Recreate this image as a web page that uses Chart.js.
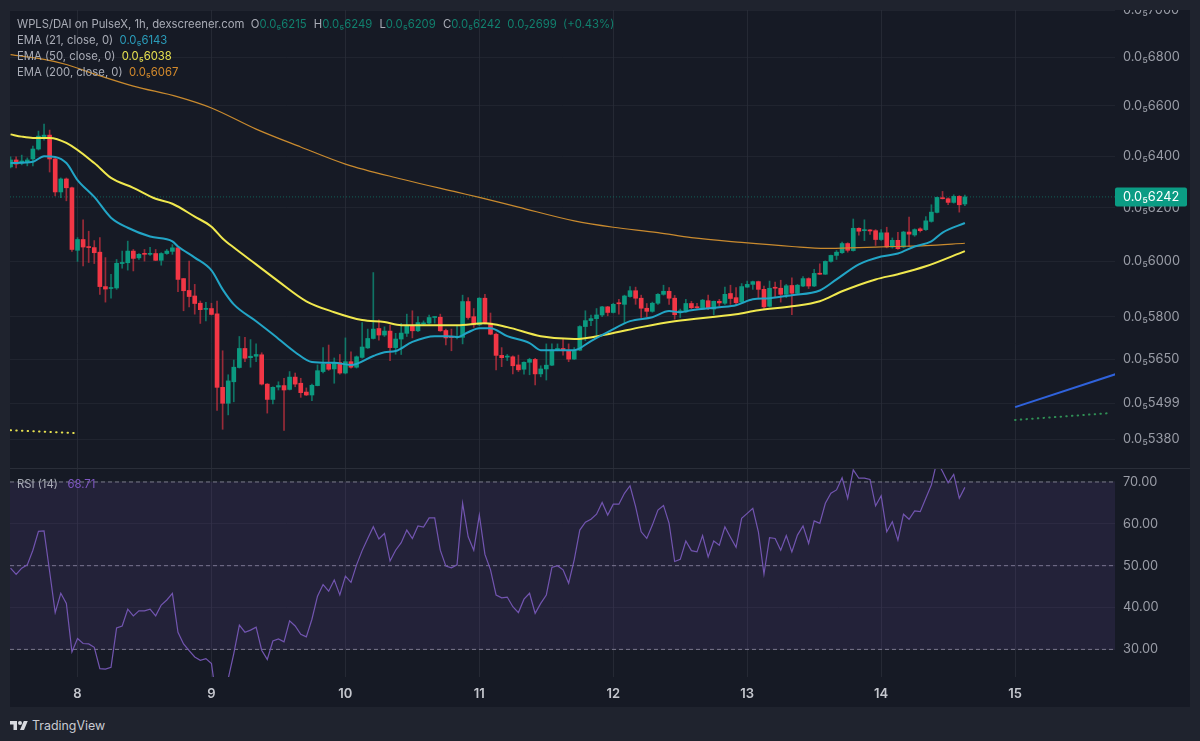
<!DOCTYPE html>
<html lang="en">
<head>
<meta charset="UTF-8">
<title>WPLS/DAI on PulseX</title>
<style>
    * { margin: 0; padding: 0; box-sizing: border-box; }
    body {
        width: 1200px;
        height: 741px;
        background: #1f232e;
        overflow: hidden;
        position: relative;
        font-family: Inter, 'Noto Sans', sans-serif;
    }
    #chart {
        position: absolute;
        left: 10px;
        top: 10px;
        background: #161a25;
    }
    .line {
        position: absolute;
        left: 17px;
        font-size: 11.3px;
        line-height: 16px;
        color: #a9acb6;
        white-space: pre;
    }
    .teal { color: #11806e; }
    .gap { margin-left: 4px; }
    .logo {
        position: absolute;
        left: 10px;
        top: 718px;
        display: flex;
        align-items: center;
        color: #c9cbd2;
        font-size: 12.4px;
    }
    .logo svg { width: 18px; height: 14px; margin-right: 4px; fill: #d8dae0; }
</style>
</head>
<body>
<canvas id="chart" width="1180" height="697"></canvas>
<div class="line" style="top:16px">WPLS/DAI on PulseX, 1h, dexscreener.com  O<span class="teal">0.0₅6215</span> <span class="gap">H</span><span class="teal">0.0₅6249</span> <span class="gap">L</span><span class="teal">0.0₅6209</span> <span class="gap">C</span><span class="teal">0.0₅6242</span>  <span class="teal">0.0₇2699  (+0.43%)</span></div>
<div class="line" style="top:32px">EMA (21, close, 0)  <span style="color:#2a9dbb">0.0₅6143</span></div>
<div class="line" style="top:48px">EMA (50, close, 0)  <span style="color:#e6e04f">0.0₅6038</span></div>
<div class="line" style="top:64px">EMA (200, close, 0)  <span style="color:#d48a2c">0.0₅6067</span></div>
<div class="line" style="top:476px">RSI (14)   <span style="color:#7e57c2">68.71</span></div>
<div class="logo">
    <svg viewBox="0 0 36 28"><path d="M14 22H7V11H0V4h14v18zM28 22h-8l7.5-18h8L28 22z"/><circle cx="20" cy="8" r="4"/></svg>
    TradingView
</div>
<script src="https://cdn.jsdelivr.net/npm/chart.js@4/dist/chart.umd.min.js"></script>
<script>
    // candles, one per hour. hour 0 = start of day 8, prices in units of 1e-11
    const opens = [
        6358,6385,6373,6377,6389,6428,6477,6483,6389,6261,
        6311,6277,6041,6081,6054,6051,6034,5908,5901,5903,
        5992,5995,6038,6013,6029,6026,6029,6004,6029,6037,
        6050,5937,5894,5874,5848,5826,5829,5810,5554,5500,
        5573,5622,5688,5656,5661,5666,5565,5513,5555,5560,
        5547,5589,5568,5538,5528,5560,5608,5634,5617,5639,
        5603,5642,5623,5657,5690,5723,5758,5735,5749,5691,
        5721,5741,5768,5750,5774,5777,5797,5798,5751,5728,
        5726,5727,5854,5800,5771,5866,5777,5738,5664,5658,
        5659,5631,5616,5640,5650,5600,5617,5630,5682,5688,
        5679,5651,5682,5765,5786,5793,5806,5835,5815,5848,
        5844,5872,5893,5866,5830,5819,5848,5880,5891,5866,
        5814,5817,5847,5835,5827,5857,5827,5855,5848,5883,
        5868,5852,5906,5916,5926,5898,5837,5904,5902,5880,
        5912,5884,5910,5937,5910,5956,5953,6000,6022,6032,
        6066,6040,6123,6114,6117,6114,6081,6106,6053,6078,
        6053,6109,6098,6121,6118,6149,6183,6239,6235,6221,
        6244,6215
    ];
    const closes = [
        6385,6369,6381,6385,6428,6479,6483,6389,6261,6311,
        6277,6044,6081,6053,6051,6032,5908,5899,5904,5993,
        5996,6038,6011,6026,6026,6029,6004,6029,6038,6050,
        5934,5893,5872,5847,5825,5829,5808,5554,5500,5576,
        5623,5688,5654,5661,5667,5565,5513,5554,5560,5545,
        5589,5565,5536,5528,5561,5611,5634,5616,5639,5603,
        5642,5623,5659,5693,5723,5756,5735,5749,5691,5721,
        5742,5768,5750,5779,5778,5797,5799,5750,5725,5726,
        5730,5854,5797,5771,5866,5777,5738,5664,5656,5661,
        5628,5614,5640,5650,5600,5617,5630,5682,5688,5680,
        5651,5680,5765,5786,5793,5806,5835,5815,5844,5846,
        5874,5893,5866,5830,5819,5848,5880,5891,5866,5807,
        5821,5847,5832,5832,5859,5829,5855,5849,5880,5865,
        5850,5908,5916,5926,5898,5835,5902,5902,5880,5911,
        5884,5913,5937,5910,5956,5953,6000,6022,6034,6066,
        6041,6123,6112,6118,6113,6081,6106,6053,6078,6047,
        6109,6101,6118,6114,6151,6184,6240,6235,6221,6244,
        6212,6242
    ];
    const highs = [
        6397,6397,6404,6393,6440,6499,6527,6503,6397,6315,
        6315,6280,6088,6155,6112,6077,6088,6014,5953,6007,
        6038,6075,6044,6029,6044,6052,6044,6032,6044,6062,
        6052,5938,6001,5916,5856,5851,5848,5856,5680,5597,
        5648,5730,5727,5719,5704,5673,5567,5556,5573,5585,
        5608,5603,5585,5552,5565,5631,5691,5700,5655,5667,
        5725,5676,5662,5779,5756,5959,5789,5764,5770,5741,
        5776,5809,5821,5800,5785,5806,5800,5809,5756,5756,
        5768,5877,5868,5829,5868,5880,5813,5742,5691,5667,
        5662,5665,5642,5654,5654,5628,5704,5704,5704,5721,
        5704,5691,5768,5821,5806,5829,5837,5837,5848,5862,
        5877,5908,5906,5877,5847,5852,5883,5913,5904,5876,
        5827,5862,5855,5848,5862,5877,5856,5862,5906,5913,
        5904,5919,5928,5928,5928,5910,5928,5924,5931,5916,
        5940,5916,5944,5940,5971,5991,6002,6023,6040,6071,
        6069,6158,6125,6155,6118,6118,6118,6127,6087,6108,
        6112,6165,6121,6125,6167,6212,6241,6263,6238,6250,
        6247,6249
    ];
    const lows = [
        6354,6354,6366,6362,6362,6424,6463,6338,6246,6239,
        6227,6037,6000,5983,5996,5992,5880,5852,5866,5898,
        5975,5968,5965,6007,6001,6022,6003,5986,6026,6026,
        5890,5821,5835,5809,5776,5785,5806,5476,5413,5461,
        5505,5620,5642,5623,5642,5562,5467,5498,5545,5409,
        5545,5556,5520,5526,5509,5559,5603,5612,5568,5599,
        5600,5620,5620,5654,5688,5721,5717,5730,5646,5668,
        5667,5730,5725,5747,5768,5773,5777,5748,5700,5680,
        5721,5704,5791,5762,5768,5773,5736,5614,5625,5646,
        5600,5608,5599,5597,5562,5590,5579,5628,5680,5665,
        5642,5650,5680,5715,5768,5735,5800,5803,5813,5809,
        5776,5870,5844,5797,5800,5816,5844,5877,5844,5791,
        5797,5815,5827,5829,5825,5825,5807,5837,5844,5844,
        5842,5850,5905,5898,5868,5829,5835,5868,5852,5868,
        5807,5880,5908,5901,5908,5952,5952,5997,6007,6029,
        6034,6038,6097,6077,6100,6059,6078,6050,6049,6044,
        6050,6056,6093,6109,6115,6146,6181,6234,6212,6218,
        6184,6209
    ];
    const rsiValues = [
        49.4,47.9,49.4,50.2,53.7,58.2,58.3,48.6,38.8,43.4,
        41,29.4,32.6,31.4,31.3,30.5,25.4,25.3,25.7,35.1,
        35.6,39.6,38,39.2,39.2,39.6,38,40.6,41.8,43.4,
        34.1,31.3,29.7,28.2,27.4,27.8,26.6,17,15,23,
        29,35.8,34.1,34.6,35.3,29.8,27.6,32,32.5,31.8,
        36.8,35.6,33.6,33,37.2,42.7,45.5,43.9,46.6,43,
        47.5,46,50.2,53.6,56.5,59.3,56.4,57.7,51.1,53.7,
        55.5,58.5,56.5,59.5,59.2,61.4,61.4,53.7,49.9,49.5,
        50.2,64.9,56.9,53.7,62.1,52.7,49,43,42.3,42.5,
        40.2,38.8,42,43.4,38.6,41,43,49.6,50,49,
        45.8,51.4,58.5,60.4,61.1,62.3,65.1,62.1,64.7,64.7,
        67.3,69.1,64.1,58.1,56.5,59.7,63.3,64.4,60.1,51,
        51.5,55.9,53.6,53.3,57.2,52.1,55.9,54.9,59.3,56.8,
        54.4,61.3,62.5,63.7,58.1,48,56.7,56.5,53.7,57.2,
        53.3,57.3,59.5,55.3,60.7,60.1,64.9,67.3,68.1,71,
        66.1,72.9,70.9,70.9,70.6,64.3,66.7,58.1,60.5,56.1,
        62.3,61.1,63.1,62.9,66.1,69.3,75,72.5,69.8,71.8,
        66.1,68.71
    ];

    const ema21Hours = [-12,-8,-6,-4,-2,0,3,6,9,13,17,18,21,24,26,28,32,35,39,42,46,49,53,55,57,60,64,66,68,70,72,74,77,81,83,89,92,95,99,103,106,108,110,115,118,121,124,128,133,136,140,144,147,150,153,155,159];
    const ema21Values = [6373,6378,6400,6397,6373,6307,6242,6163,6125,6092,6074,6055,6014,5967,5898,5844,5784,5738,5675,5641,5638,5631,5662,5675,5679,5711,5731,5731,5728,5745,5759,5759,5731,5707,5682,5682,5714,5745,5784,5798,5820,5816,5823,5834,5841,5862,5866,5877,5894,5934,5989,6018,6029,6055,6074,6107,6143];
    const ema50Hours = [-12,-10,-8,-5,-2,3,6,10,14,17,21,24,26,28,32,36,41,46,51,55,58,68,73,77,83,89,95,101,107,118,122,128,133,137,143,147,152,159];
    const ema50Values = [6486,6477,6472,6472,6452,6373,6315,6277,6235,6216,6167,6129,6085,6051,5989,5927,5855,5816,5788,5781,5770,5770,5777,5763,5731,5721,5738,5763,5784,5809,5823,5837,5855,5891,5934,5953,5982,6038];
    const ema200Hours = [-12,-6,-2,3,10,18,24,32,40,48,58,68,72,79,89,96,104,110,119,128,134,140,146,152,159];
    const ema200Values = [6811,6791,6770,6731,6681,6637,6592,6507,6436,6369,6311,6260,6240,6203,6151,6127,6107,6088,6070,6055,6048,6051,6055,6058,6067];

    // short drawings on the chart
    const dottedYellowHours = [-12, 0];
    const dottedYellowValues = [5410, 5400];
    const blueLineHours = [168, 186];
    const blueLineValues = [5487, 5599];
    const dottedGreenHours = [168, 185];
    const dottedGreenValues = [5444, 5467];

    const dayLabels = ["8", "9", "10", "11", "12", "13", "14", "15"];
    const dayHours = [0, 24, 48, 72, 96, 120, 144, 168];
    const priceTicks = [7000, 6800, 6600, 6400, 6200, 6000, 5800, 5650, 5499, 5380];
    const rsiTicks = [70, 60, 50, 40, 30];
    const lastPrice = closes[closes.length - 1];

    const GREEN = "#0b9a80";
    const RED = "#f23645";
    const hourMin = -12.1, hourMax = 185.9;

    const hours = opens.map((_, i) => i - 12);
    const isUp = opens.map((o, i) => closes[i] >= o);
    const toPoints = (xs, ys) => xs.map((x, i) => ({ x: x, y: ys[i] }));
    const flat = (value) => [{ x: hourMin, y: value }, { x: hourMax, y: value }];

    // the scales otherwise reserve room for half a label above and below
    const noPadding = (s) => {
        s.paddingTop = s.paddingBottom = s.paddingLeft = s.paddingRight = 0;
    };
    const fitY = (s) => { s.width = 75; noPadding(s); };
    const fitX = (s) => { s.height = 30; noPadding(s); };

    const emaLine = (xs, ys, color, width, order) => ({
        type: "line",
        data: toPoints(xs, ys),
        yAxisID: "y",
        borderColor: color,
        borderWidth: width,
        pointRadius: 0,
        cubicInterpolationMode: "monotone",
        order: order,
    });
    const dotted = (xs, ys, color) => ({
        type: "line",
        data: toPoints(xs, ys),
        yAxisID: "y",
        borderColor: color,
        borderWidth: 2,
        borderDash: [0.5, 5.2],
        borderCapStyle: "round",
        pointRadius: 0,
        order: 3,
    });
    const rsiLevel = (value, extra) => Object.assign({
        type: "line",
        data: flat(value),
        yAxisID: "yRsi",
        borderColor: "rgba(170,170,185,0.65)",
        borderWidth: 1,
        borderDash: [4, 3],
        pointRadius: 0,
        order: 8,
    }, extra);

    // tag with the last price on the right axis, plus the line between the panes
    const overlay = {
        id: "overlay",
        afterDraw(chart) {
            const ctx = chart.ctx, y = chart.scales.y, area = chart.chartArea;
            ctx.save();
            ctx.strokeStyle = "#2a2e39";
            ctx.beginPath();
            ctx.moveTo(0, y.bottom + 0.5);
            ctx.lineTo(chart.width, y.bottom + 0.5);
            ctx.stroke();
            const py = y.getPixelForValue(lastPrice);
            ctx.fillStyle = "#0b9c84";
            ctx.beginPath();
            ctx.roundRect(area.right, py - 9.5, 72, 19, 2);
            ctx.fill();
            ctx.fillStyle = "#fff";
            ctx.font = "12.8px Inter";
            ctx.textBaseline = "middle";
            ctx.fillText("0.0₅" + lastPrice, area.right + 8, py + 0.5);
            ctx.restore();
        },
    };

    new Chart(document.getElementById("chart"), {
        data: {
            datasets: [
                {
                    type: "bar",
                    data: hours.map((h, i) => ({ x: h, y: [lows[i], highs[i]] })),
                    yAxisID: "y",
                    backgroundColor: isUp.map((u) => (u ? "rgba(11,154,128,0.7)" : "rgba(242,54,69,0.6)")),
                    barThickness: 1,
                    grouped: false,
                    order: 6,
                },
                {
                    type: "bar",
                    data: hours.map((h, i) => ({ x: h, y: [opens[i], closes[i]] })),
                    yAxisID: "y",
                    backgroundColor: isUp.map((u) => (u ? GREEN : RED)),
                    barThickness: 4,
                    grouped: false,
                    minBarLength: 1,
                    order: 5,
                },
                emaLine(ema200Hours, ema200Values, "#c98a2e", 1.2, 3),
                emaLine(ema50Hours, ema50Values, "#f0e84e", 2, 2),
                emaLine(ema21Hours, ema21Values, "#22a5c6", 2, 1),
                dotted(dottedYellowHours, dottedYellowValues, "#e6e04f"),
                dotted(dottedGreenHours, dottedGreenValues, "#2f8f55"),
                {
                    type: "line",
                    data: toPoints(blueLineHours, blueLineValues),
                    yAxisID: "y",
                    borderColor: "#2f62dc",
                    borderWidth: 2,
                    pointRadius: 0,
                    order: 3,
                },
                {
                    type: "line",
                    data: flat(lastPrice),
                    yAxisID: "y",
                    borderColor: "rgba(11,154,128,0.55)",
                    borderWidth: 1,
                    borderDash: [1, 2],
                    pointRadius: 0,
                    order: 7,
                },
                rsiLevel(70, { fill: "+1", backgroundColor: "rgba(126,87,194,0.13)" }),
                rsiLevel(30),
                rsiLevel(50),
                {
                    type: "line",
                    data: toPoints(hours, rsiValues),
                    yAxisID: "yRsi",
                    borderColor: "#7255b0",
                    borderWidth: 1.2,
                    pointRadius: 0,
                    clip: 0,
                    order: 1,
                },
            ],
        },
        options: {
            responsive: false,
            animation: false,
            layout: { autoPadding: false, padding: 0 },
            plugins: { legend: { display: false }, tooltip: { enabled: false } },
            scales: {
                x: {
                    type: "linear",
                    offset: false,
                    min: hourMin,
                    max: hourMax,
                    afterBuildTicks: (s) => { s.ticks = dayHours.map((v) => ({ value: v })); },
                    afterFit: fitX,
                    grid: { color: "rgba(42,46,57,0.75)", drawTicks: false, offset: false },
                    border: { display: false },
                    ticks: {
                        callback: (v) => dayLabels[dayHours.indexOf(v)],
                        autoSkip: false,
                        maxRotation: 0,
                        padding: 9,
                        color: "#c5c7ce",
                        font: { family: "Inter", size: 13, weight: "600" },
                    },
                },
                y: {
                    type: "logarithmic",
                    position: "right",
                    stack: "panes",
                    stackWeight: 458,
                    min: 5286,
                    max: 7000,
                    afterBuildTicks: (s) => { s.ticks = priceTicks.map((v) => ({ value: v })); },
                    afterFit: fitY,
                    grid: { color: "rgba(42,46,57,0.5)", drawTicks: false },
                    border: { display: false },
                    ticks: {
                        callback: (v) => "0.0₅" + v,
                        autoSkip: false,
                        padding: 8,
                        color: "#9a9da7",
                        font: { family: "Inter", size: 12.8 },
                    },
                },
                yRsi: {
                    type: "linear",
                    position: "right",
                    stack: "panes",
                    stackWeight: 209,
                    min: 23.4,
                    max: 73.34,
                    afterBuildTicks: (s) => { s.ticks = rsiTicks.map((v) => ({ value: v })); },
                    afterFit: fitY,
                    grid: { color: "rgba(42,46,57,0.5)", drawTicks: false },
                    border: { display: false },
                    ticks: {
                        callback: (v) => v.toFixed(2),
                        autoSkip: false,
                        padding: 8,
                        color: "#9a9da7",
                        font: { family: "Inter", size: 12.8 },
                    },
                },
            },
        },
        plugins: [overlay],
    });
</script>
</body>
</html>
